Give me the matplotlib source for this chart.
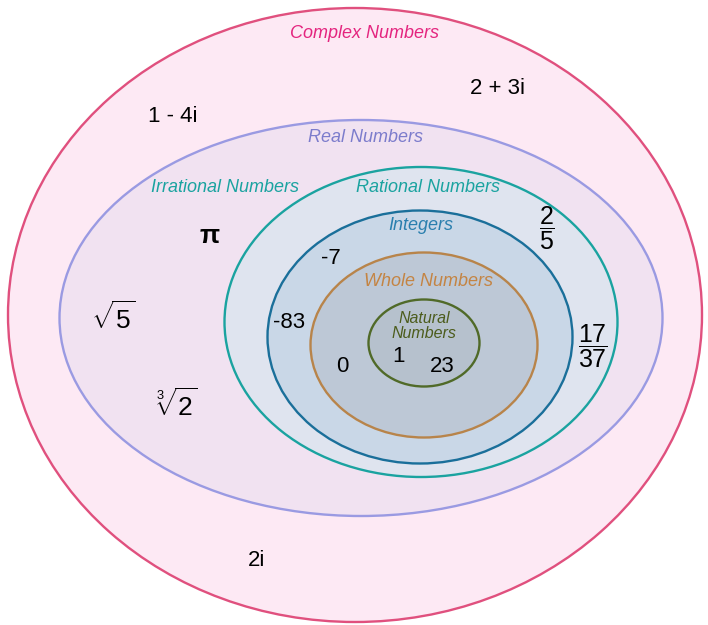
import matplotlib
matplotlib.use("Agg")
import matplotlib.pyplot as plt
from matplotlib.patches import Ellipse

plt.rcParams['font.family'] = ['Liberation Sans', 'DejaVu Sans']
plt.rcParams['mathtext.fontset'] = 'custom'
plt.rcParams['mathtext.rm'] = 'Liberation Sans'
plt.rcParams['mathtext.it'] = 'Liberation Sans:italic'

# ensembles, du plus grand au plus petit
set_names = ["Complex", "Real", "Rational", "Integers", "Whole", "Natural"]
set_cx = [355, 361, 421, 420, 424, 424]
set_cy = [315, 318, 322, 337, 345, 343]
set_w = [694, 603, 393, 305, 227, 111]
set_h = [614, 396, 310, 253, 185, 87]
set_edge = ["#e0507e", "#9a9ae2", "#1aa3a0", "#1a6f9a", "#b8844a", "#506a28"]
set_fill = ["#fde9f4", "#f1e2f1", "#dfe4ef", "#c9d7e7", "#bdc8d6", "#b6c1cd"]

# etiquettes des ensembles
label_text = ["Complex Numbers", "Real Numbers", "Irrational Numbers", "Rational Numbers",
              "Integers", "Whole Numbers", "Natural\nNumbers"]
label_xy = [(365, 33), (365, 137), (225, 187), (428, 187), (421, 226), (429, 281), (424, 326)]
label_color = ["#e4257f", "#7c7ccc", "#1aa3a0", "#1aa3a0", "#2a7fae", "#c48443", "#4c5c1c"]

# exemples de nombres
num_text = ["1 - 4i", "2 + 3i", "π", r"$\sqrt{5}$", r"$\sqrt[3]{2}$", "-7", "-83",
            "0", "1", "23", r"$\dfrac{2}{5}$", r"$\dfrac{17}{37}$", "2i"]
num_xy = [(173, 117), (497, 89), (210, 236), (113, 318), (177, 405), (331, 259), (289, 323),
          (342, 367), (398, 357), (442, 366), (547, 228), (593, 346), (257, 561)]

fig = plt.figure(figsize=(7.08, 6.25), dpi=100)
ax = fig.add_axes([0, 0, 1, 1])
ax.set_xlim(0, 708)
ax.set_ylim(625, 0)
ax.axis("off")

for i in range(len(set_names)):
    e = Ellipse((set_cx[i], set_cy[i]), set_w[i], set_h[i],
                facecolor=set_fill[i], edgecolor=set_edge[i], lw=1.7, zorder=i + 1)
    ax.add_patch(e)

for t, (x, y), c in zip(label_text, label_xy, label_color):
    if "Natural" in t:
        fs, ls = 11.5, 0.95
    else:
        fs, ls = 13, 1.0
    ax.text(x, y, t, color=c, fontsize=fs, style="italic", ha="center", va="center",
            linespacing=ls, zorder=10)

for t, (x, y) in zip(num_text, num_xy):
    if "frac" in t:
        fs = 18
    elif "sqrt" in t:
        fs = 19
    elif t == "π":
        fs = 19
    else:
        fs = 16
    wt = "bold" if t == "π" else "normal"
    ax.text(x, y, t, color="black", fontsize=fs, fontweight=wt, ha="center", va="center",
            zorder=10)

fig.savefig("out.png", dpi=100, facecolor="white")
